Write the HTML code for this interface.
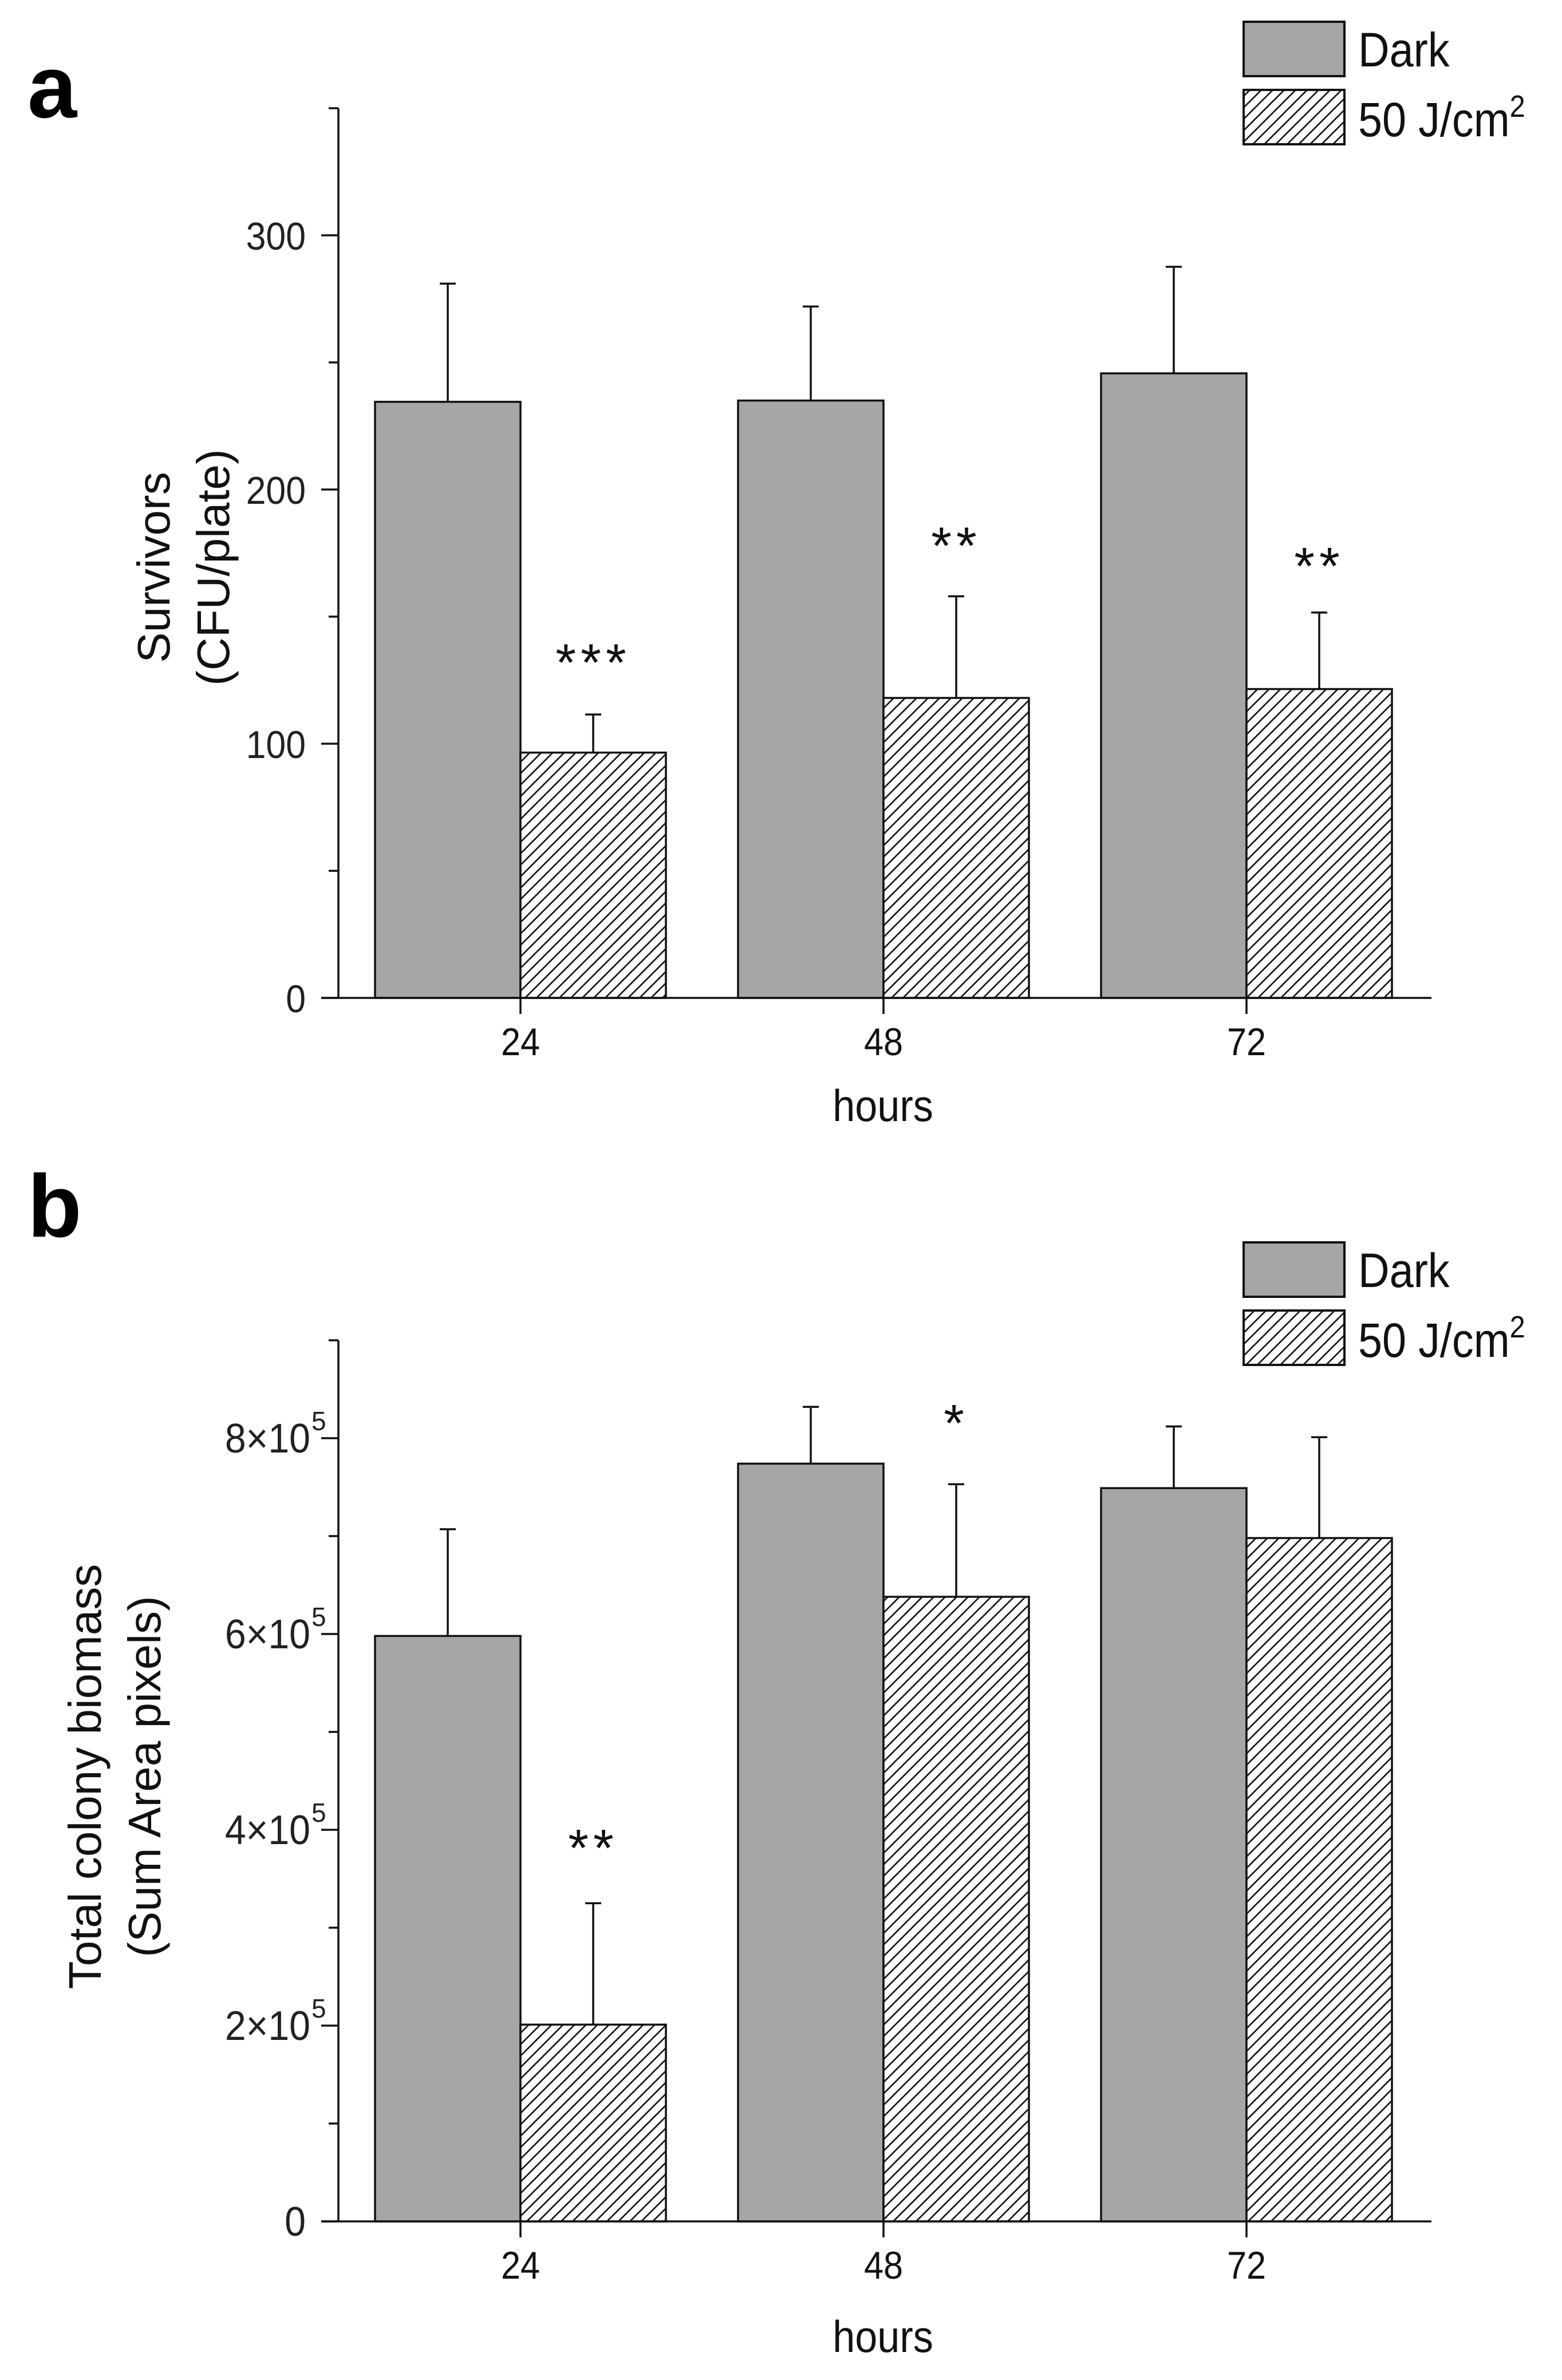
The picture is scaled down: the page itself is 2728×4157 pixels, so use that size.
<!DOCTYPE html>
<html><head><meta charset="utf-8"><style>
html,body{margin:0;padding:0;background:#fff;}
svg{display:block;font-family:"Liberation Sans",Arial,sans-serif;}
</style></head><body>
<svg id="fig" width="2728" height="4157" viewBox="0 0 2728 4157" xmlns="http://www.w3.org/2000/svg">
<defs>
<pattern id="hatch" patternUnits="userSpaceOnUse" width="20" height="20">
<rect width="20" height="20" fill="#fff"/>
<path d="M-5,5 L5,-5 M0,20 L20,0 M15,25 L25,15" stroke="#111" stroke-width="2.6"/>
</pattern>
</defs>
<g id="root"></g>
</svg>
<script>
const categories = ["24", "48", "72"];
const aDark = [234.5, 235, 245.7];
const aDarkErr = [281, 272, 287.6];
const aLight = [96.5, 118, 121.5];
const aLightErr = [111.5, 158, 151.6];
const aStars = ["***", "**", "**"];
const aStarY = [136, 182, 174];
const aTicks = [0, 100, 200, 300];
const aMinor = [50, 150, 250];
const bDark = [5.98, 7.74, 7.49];
const bDarkErr = [7.07, 8.32, 8.12];
const bLight = [2.01, 6.38, 6.98];
const bLightErr = [3.25, 7.53, 8.01];
const bStars = ["**", "*", ""];
const bStarY = [3.92, 8.26, 0];
const bTicks = [0, 2, 4, 6, 8];
const bMinor = [1, 3, 5, 7];

const NS = "http://www.w3.org/2000/svg";
const root = document.getElementById("root");
function mk(tag, attrs, parent, text) {
  const e = document.createElementNS(NS, tag);
  for (const k in attrs) e.setAttribute(k, attrs[k]);
  if (text !== undefined) e.textContent = text;
  (parent || root).appendChild(e);
  return e;
}

function panel(o) {
  const g = mk("g", {});
  
  
  const axX = 591, axR = 2500;
  const y = v => o.base - (v - 0) * o.unit;
  const cx = i => 909 + i * 634;
  const bw = 254;
  for (let i = 0; i < categories.length; i++) {
    const r1 = mk("rect", {x: cx(i) - bw, y: y(o.dark[i]), width: bw, height: o.base - y(o.dark[i]), fill: "#a6a6a6", stroke: "#111", "stroke-width": 3.5}, g);
    
    
    const l1 = mk("line", {x1: cx(i) - bw / 2, x2: cx(i) - bw / 2, y1: y(o.dark[i]), y2: y(o.darkErr[i]), stroke: "#111", "stroke-width": 3.5}, g);
    
    
    const c1 = mk("line", {x1: cx(i) - bw / 2 - 14, x2: cx(i) - bw / 2 + 14, y1: y(o.darkErr[i]), y2: y(o.darkErr[i]), stroke: "#111", "stroke-width": 3.5}, g);
    
    
    const r2 = mk("rect", {x: cx(i), y: y(o.light[i]), width: bw, height: o.base - y(o.light[i]), fill: "url(#hatch)", stroke: "#111", "stroke-width": 3.5}, g);
    
    
    const l2 = mk("line", {x1: cx(i) + bw / 2, x2: cx(i) + bw / 2, y1: y(o.light[i]), y2: y(o.lightErr[i]), stroke: "#111", "stroke-width": 3.5}, g);
    
    
    const c2 = mk("line", {x1: cx(i) + bw / 2 - 14, x2: cx(i) + bw / 2 + 14, y1: y(o.lightErr[i]), y2: y(o.lightErr[i]), stroke: "#111", "stroke-width": 3.5}, g);
    
    
    if (o.stars[i]) {
      const s = mk("text", {x: cx(i) + bw / 2, y: y(o.starY[i]) + 50, "font-size": 92, "text-anchor": "middle", "letter-spacing": 8, fill: "#111"}, g, o.stars[i]);
      
      
    }
    const t = mk("line", {x1: cx(i), x2: cx(i), y1: o.base, y2: o.base + 28, stroke: "#111", "stroke-width": 3.5}, g);
    
    
    const tl = mk("text", {"font-size": 68, "text-anchor": "middle", fill: "#111", transform: "translate(" + cx(i) + "," + (o.base + 100) + ") scale(0.9,1)"}, g, categories[i]);
    
    
  }
  const ya = mk("line", {x1: axX, x2: axX, y1: y(o.top), y2: o.base, stroke: "#111", "stroke-width": 3.5}, g);
  
  
  const xa = mk("line", {x1: axX - 30, x2: axR, y1: o.base, y2: o.base, stroke: "#111", "stroke-width": 3.5}, g);
  
  
  const topT = mk("line", {x1: axX - 17, x2: axX, y1: y(o.top), y2: y(o.top), stroke: "#111", "stroke-width": 3.5}, g);
  
  
  o.ticks.forEach(v => {
    const t = mk("line", {x1: axX - 30, x2: axX, y1: y(v), y2: y(v), stroke: "#111", "stroke-width": 3.5}, g);
    
    
    const lab = mk("text", {"font-size": o.sci ? 72 : 68, "text-anchor": "end", fill: "#222", transform: "translate(" + (o.sci && v ? 542 : 534) + "," + (y(v) + 25) + ") scale(0.92,1)"}, g);
    
    
    if (o.sci && v) {
      lab.textContent = v + "\u00d710";
      const sup = mk("text", {x: 544, y: y(v) - 14, "font-size": 46, fill: "#222"}, g, "5");
      
      
    } else lab.textContent = String(v);
  });
  o.minor.forEach(v => {
    const t = mk("line", {x1: axX - 17, x2: axX, y1: y(v), y2: y(v), stroke: "#111", "stroke-width": 3.5}, g);
    
    
  });
  const xt = mk("text", {"font-size": 78, "text-anchor": "middle", fill: "#111", transform: "translate(1542," + o.hoursY + ") scale(0.9,1)"}, g, "hours");
  
  
  const yt = mk("text", {"font-size": 80, "text-anchor": "middle", fill: "#111", transform: "translate(" + o.titleX + "," + o.titleY + ") rotate(-90)"}, g);
  
  
  mk("tspan", {x: 0, y: 0}, yt, o.title1);
  mk("tspan", {x: 0, y: 104}, yt, o.title2);
  const pl = mk("text", {x: 48, y: o.letterY, "font-size": 155, "font-weight": "bold", fill: "#000"}, g, o.letter);
  
  
  const lg = mk("g", {}, g);
  
  
  const lb1 = mk("rect", {x: 2172, y: o.legY, width: 176, height: 95, fill: "#a6a6a6", stroke: "#111", "stroke-width": 4}, lg);
  
  
  const lt1 = mk("text", {"font-size": 84, fill: "#111", transform: "translate(2372," + (o.legY + 78) + ") scale(0.9,1)"}, lg, "Dark");
  
  
  const lb2 = mk("rect", {x: 2172, y: o.legY + 119, width: 176, height: 95, fill: "url(#hatch)", stroke: "#111", "stroke-width": 4}, lg);
  
  
  const lt2 = mk("text", {"font-size": 84, fill: "#111", transform: "translate(2372," + (o.legY + 200) + ") scale(0.9,1)"}, lg, "50 J/cm");
  
  
  mk("tspan", {"font-size": 54, dy: -34}, lt2, "2");
}

panel({name: "panel-a-survivors", base: 1743, unit: 4.44, top: 350, dark: aDark, darkErr: aDarkErr, light: aLight, lightErr: aLightErr,
  stars: aStars, starY: aStarY, ticks: aTicks, minor: aMinor, sci: false, hoursY: 1958,
  title1: "Survivors", title2: "(CFU/plate)", titleX: 296, titleY: 991, letter: "a", letterY: 205, legY: 38});
panel({name: "panel-b-biomass", base: 3880, unit: 171, top: 9, dark: bDark, darkErr: bDarkErr, light: bLight, lightErr: bLightErr,
  stars: bStars, starY: bStarY, ticks: bTicks, minor: bMinor, sci: true, hoursY: 4108,
  title1: "Total colony biomass", title2: "(Sum Area pixels)", titleX: 176, titleY: 3103, letter: "b", letterY: 2160, legY: 2170});
</script>
</body></html>
